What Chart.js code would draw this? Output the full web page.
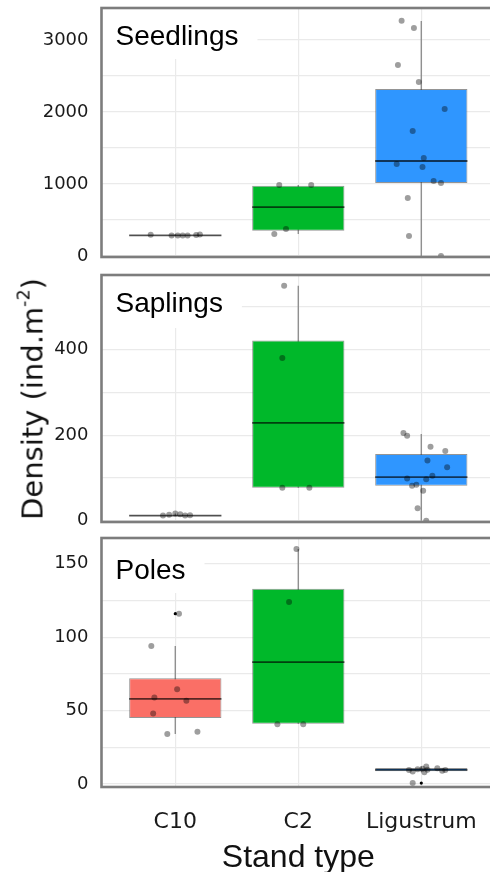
<!DOCTYPE html>
<html><head><meta charset="utf-8">
<script src="https://cdn.jsdelivr.net/npm/chart.js@4.4.1/dist/chart.umd.min.js"></script>
<style>
html,body{margin:0;padding:0;background:#fff;width:490px;height:872px;overflow:hidden;position:relative}
canvas{position:absolute;left:0}
#ytitle{position:absolute;left:33px;top:399px;transform:translate(-50%,-50%) rotate(-90deg);white-space:nowrap;
 font-family:'DejaVu Sans',sans-serif;font-size:29px;line-height:1;color:#111}
#ytitle sup{font-size:0.6em;vertical-align:baseline;position:relative;top:-0.75em}
</style></head><body>
<canvas id="c1" width="500" height="265" style="top:0px"></canvas>
<canvas id="c2" width="500" height="263" style="top:267px"></canvas>
<canvas id="c3" width="500" height="347" style="top:530px"></canvas>
<div id="ytitle">Density (ind.m<sup>-2</sup>)</div>
<script>
// ---------------- DATA ----------------
const categories = ['C10', 'C2', 'Ligustrum'];
const panelTitles = ['Seedlings', 'Saplings', 'Poles'];

// box statistics per category: [lower whisker, Q1, median, Q3, upper whisker]
const seedlingsBoxes = [[280, 283, 285, 290, 300], [305, 350, 680, 975, 986], [0, 1014, 1319, 2319, 3264]];
const saplingsBoxes  = [[11, 11.5, 12, 13, 17], [77, 77, 229, 422, 550], [0, 82, 102, 156, 203]];
const polesBoxes     = [[34, 45, 58, 72, 94], [41, 41, 83, 133, 160], [8, 8.7, 9.7, 10.9, 12]];

// jittered observations per category: [horizontal jitter (category units), value]
const seedlingsC10 = [[-0.2, 295], [-0.03, 283], [0.02, 283], [0.06, 285], [0.1, 285], [0.17, 290], [0.2, 300]];
const seedlingsC2  = [[-0.155, 986], [0.105, 986], [-0.1, 375], [-0.195, 305]];
const seedlingsLig = [[-0.16, 3268], [-0.06, 3167], [-0.19, 2653], [-0.02, 2417], [0.19, 2042], [-0.07, 1736],
                      [0.02, 1361], [-0.2, 1278], [0.01, 1236], [0.1, 1042], [0.16, 1014], [-0.11, 806], [-0.1, 278], [0.16, 0]];
const saplingsC10  = [[-0.1, 12], [-0.05, 14], [0.0, 17], [0.04, 15], [0.08, 12], [0.12, 13]];
const saplingsC2   = [[-0.115, 550], [-0.13, 381], [-0.13, 77], [0.09, 77]];
const saplingsLig  = [[-0.145, 205], [-0.115, 199], [0.075, 173], [0.195, 163], [0.05, 141], [0.21, 125], [-0.115, 99],
                      [0.04, 97], [0.09, 105], [-0.075, 82], [-0.04, 84], [0.015, 70], [-0.03, 29], [0.04, 0]];
const polesC10     = [[0.03, 116], [-0.195, 94], [0.015, 64.6], [-0.17, 59], [0.09, 56.7], [-0.18, 48], [-0.065, 34], [0.18, 35.6]];
const polesC2      = [[-0.015, 160], [-0.075, 124], [-0.17, 40.8], [0.04, 40.8]];
const polesLig     = [[-0.1, 9.5], [-0.07, 8.5], [0.01, 10.5], [0.025, 8], [0.04, 12], [0.05, 9.8], [0.13, 10.8],
                      [0.195, 9.6], [0.17, 9], [-0.03, 10], [-0.07, 0.7]];

// boxplot outliers per category (null = none)
const seedlingsOutliers = [null, null, null];
const saplingsOutliers  = [null, null, null];
const polesOutliers     = [116, null, 0.7];

// y axis: labelled ticks and extra (minor) grid lines, and axis limits
const seedlingsTicks = [0, 1000, 2000, 3000];
const seedlingsMinor = [500, 1500, 2500];
const saplingsTicks  = [0, 200, 400];
const saplingsMinor  = [100, 300, 500];
const polesTicks     = [0, 50, 100, 150];
const polesMinor     = [25, 75, 125];
const seedlingsRange = [-14, 3444];
const saplingsRange  = [-3, 575];
const polesRange     = [-2, 167.5];

// ---------------- STYLE ----------------
const fillColors = ['#FA6F66', '#00B82A', '#2F96FF'];
const gridColor = '#EAEAEA';
const tickFont = "'DejaVu Sans', sans-serif";
const titleFont = "'Liberation Sans', Arial, sans-serif";

const panelPlugin = {
  id: 'panelDeco',
  beforeDatasetsDraw(chart, args, opts) {
    const { ctx, chartArea: a } = chart;
    ctx.save();
    ctx.font = '28px ' + titleFont;
    const w = ctx.measureText(opts.text).width + 32;
    ctx.fillStyle = '#fff';
    ctx.fillRect(a.left + 1, a.top + 1, w, opts.boxH);
    ctx.fillStyle = '#000';
    ctx.textBaseline = 'alphabetic';
    ctx.fillText(opts.text, a.left + 14, a.top + opts.base);
    ctx.restore();
  },
  afterDatasetsDraw(chart) {
    const { ctx, chartArea: a } = chart;
    ctx.save();
    ctx.strokeStyle = '#7d7d7d';
    ctx.lineWidth = 2.6;
    ctx.strokeRect(a.left, a.top, a.right - a.left + 10, a.bottom - a.top);
    ctx.restore();
  }
};

function zeroPad(s) { s.paddingTop = 0; s.paddingBottom = 0; s.paddingLeft = 0; s.paddingRight = 0; }

function buildPanel(id, title, boxes, groups, outliers, ticks, minor, range, showX, boxH, base) {
  const pts = [];
  groups.forEach((g, i) => g.forEach(p => pts.push({ x: i + 1 + p[0], y: p[1] })));
  const outs = [];
  outliers.forEach((v, i) => { if (v !== null) outs.push({ x: i + 1, y: v }); });
  const med = [], whisk = [], bars = [];
  boxes.forEach((b, i) => {
    const c = i + 1;
    med.push({ x: c - 0.375, y: b[2] }, { x: c + 0.375, y: b[2] }, { x: c + 0.4, y: null });
    whisk.push({ x: c, y: b[0] }, { x: c, y: b[4] }, { x: c, y: null });
    bars.push({ x: c, y: [b[1], b[3]] });
  });
  const allTicks = ticks.concat(minor).sort((a, b) => a - b);
  new Chart(document.getElementById(id), {
    type: 'bar',
    data: {
      datasets: [
        { type: 'scatter', data: pts, order: 0, pointRadius: 3, pointBackgroundColor: 'rgba(0,0,0,0.38)', pointBorderWidth: 0 },
        { type: 'scatter', data: outs, order: 1, pointRadius: 1.6, pointBackgroundColor: '#000', pointBorderWidth: 0 },
        { type: 'line', data: med, order: 2, borderColor: 'rgba(0,0,0,0.65)', borderWidth: 1.8, pointRadius: 0, fill: false, spanGaps: false, tension: 0 },
        { type: 'bar', data: bars, order: 3, backgroundColor: fillColors, borderColor: 'rgba(60,60,60,0.55)', borderWidth: 1,
          borderSkipped: false, categoryPercentage: 1, barPercentage: 0.75 },
        { type: 'line', data: whisk, order: 4, borderColor: '#909090', borderWidth: 1.4, pointRadius: 0, fill: false, spanGaps: false, tension: 0 }
      ]
    },
    options: {
      responsive: false, animation: false, events: [],
      layout: { padding: { top: 8, right: 4.9, left: 0, bottom: 0 } },
      plugins: { legend: { display: false }, tooltip: { enabled: false }, panelDeco: { text: title, boxH: boxH, base: base } },
      scales: {
        x: {
          type: 'linear', min: 0.4, max: 3.6, offset: false,
          afterBuildTicks: s => { s.ticks = [1, 2, 3].map(v => ({ value: v })); },
          afterFit: s => { s.height = showX ? 90 : 8; zeroPad(s); },
          grid: { color: gridColor, lineWidth: 1.2, drawTicks: false, offset: false },
          border: { display: false },
          ticks: { display: showX, autoSkip: false, maxRotation: 0, padding: 22, color: '#1a1a1a',
                   font: { family: tickFont, size: 22 }, callback: v => categories[Math.round(v) - 1] },
          title: { display: showX, text: 'Stand type', color: '#111', font: { family: titleFont, size: 32 }, padding: { top: 0, bottom: 0 } }
        },
        y: {
          min: range[0], max: range[1],
          afterBuildTicks: s => { s.ticks = allTicks.map(v => ({ value: v })); },
          afterFit: s => { s.width = 101.5; zeroPad(s); },
          grid: { color: gridColor, lineWidth: 1.2, drawTicks: false },
          border: { display: false },
          ticks: { padding: 13, color: '#1a1a1a', font: { family: tickFont, size: 18 },
                   callback: v => ticks.includes(v) ? String(v) : '' }
        }
      }
    },
    plugins: [panelPlugin]
  });
}

buildPanel('c1', panelTitles[0], seedlingsBoxes, [seedlingsC10, seedlingsC2, seedlingsLig], seedlingsOutliers,
           seedlingsTicks, seedlingsMinor, seedlingsRange, false, 50, 37);
buildPanel('c2', panelTitles[1], saplingsBoxes, [saplingsC10, saplingsC2, saplingsLig], saplingsOutliers,
           saplingsTicks, saplingsMinor, saplingsRange, false, 52, 37);
buildPanel('c3', panelTitles[2], polesBoxes, [polesC10, polesC2, polesLig], polesOutliers,
           polesTicks, polesMinor, polesRange, true, 54, 41);
</script>
</body></html>
